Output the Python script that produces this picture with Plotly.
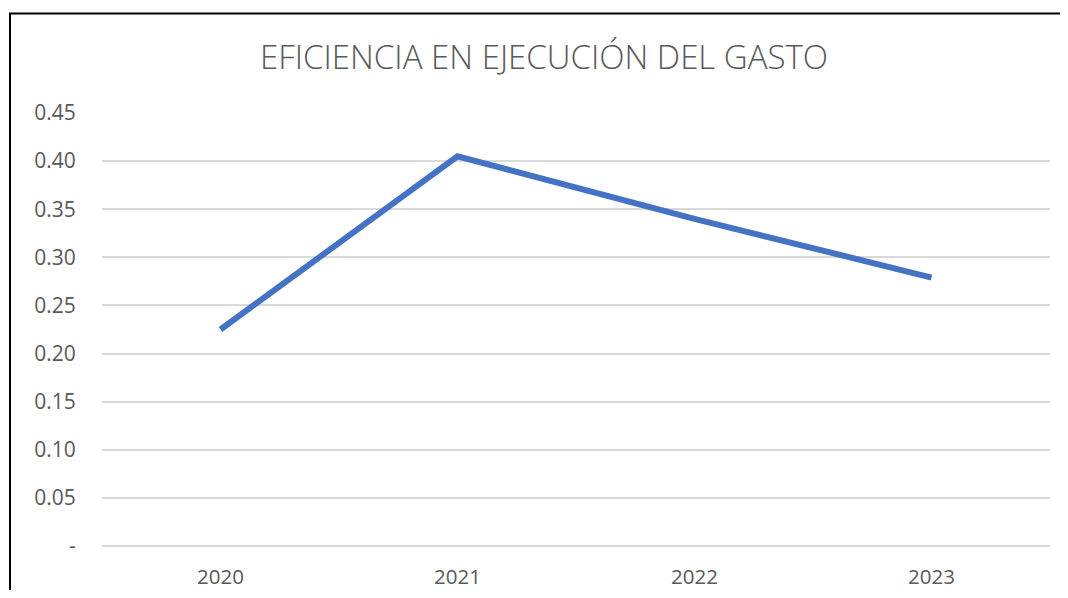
import plotly.graph_objects as go

years = ["2020", "2021", "2022", "2023"]
eficiencia = [0.225, 0.405, 0.340, 0.279]
ytick_vals = [0, 0.05, 0.10, 0.15, 0.20, 0.25, 0.30, 0.35, 0.40, 0.45]
ytick_text = ["-", "0.05", "0.10", "0.15", "0.20", "0.25", "0.30", "0.35", "0.40", "0.45"]
title_text = "EFICIENCIA EN EJECUCIÓN DEL GASTO"

# page renders the figure inside an 8px body margin; keep figure fully inside viewport
OFF = 8
W, H = 1068 - 2 * OFF, 598 - 2 * OFF
# target page-pixel positions
plot_left, plot_right, plot_top, plot_bottom = 102, 1050, 113, 546
L = plot_left - OFF
T = plot_top - OFF
R = W - (plot_right - OFF)
B = H - (plot_bottom - OFF)
pw, ph = W - L - R, H - T - B

def px_to_paper_x(px):
    return (px - OFF - L) / pw

def px_to_paper_y(py):
    return (H - B - (py - OFF)) / ph

fig = go.Figure()
fig.add_trace(go.Scatter(
    x=years, y=eficiencia, mode="lines",
    line=dict(color="#4472C4", width=6),
    hoverinfo="x+y",
))

fig.update_layout(
    width=W, height=H,
    margin=dict(l=L, r=R, t=T, b=B, autoexpand=False),
    paper_bgcolor="white", plot_bgcolor="white",
    showlegend=False,
    title=dict(
        text=title_text, xref="container", yref="container",
        x=(544 - OFF) / W, y=1 - (57 - OFF) / H, xanchor="center", yanchor="middle",
        font=dict(family="Open Sans", size=33, color="#595959", weight=300),
    ),
    font=dict(family="Open Sans", color="#595959"),
    xaxis=dict(
        type="category", showgrid=False, showline=False, zeroline=False,
        ticks="outside", ticklen=12, tickcolor="rgba(0,0,0,0)",
        tickfont=dict(size=20.5, color="#595959"),
        range=[-0.5, 3.5], automargin=False,
    ),
    yaxis=dict(
        range=[0, 0.45], tickvals=ytick_vals, ticktext=ytick_text,
        showgrid=True, gridcolor="#D9D9D9", gridwidth=1.5,
        zeroline=True, zerolinecolor="#D9D9D9", zerolinewidth=1.5,
        showline=False, ticks="outside", ticklen=21, tickcolor="rgba(0,0,0,0)",
        tickfont=dict(size=21, color="#595959"), automargin=False,
    ),
    shapes=[
        dict(type="line", xref="paper", yref="paper",
             x0=px_to_paper_x(9), x1=px_to_paper_x(1075),
             y0=px_to_paper_y(13.5), y1=px_to_paper_y(13.5),
             line=dict(color="black", width=2)),
        dict(type="line", xref="paper", yref="paper",
             x0=px_to_paper_x(10), x1=px_to_paper_x(10),
             y0=px_to_paper_y(13.5), y1=px_to_paper_y(610),
             line=dict(color="black", width=2)),
    ],
)

fig.write_html("out.html")
